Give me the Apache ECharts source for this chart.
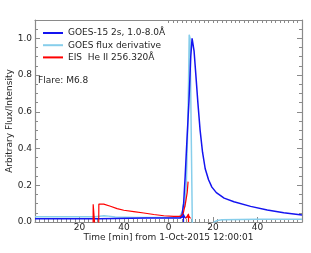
<!DOCTYPE html>
<html>
<head>
<meta charset="utf-8">
<script src="https://cdn.jsdelivr.net/npm/echarts@6/dist/echarts.min.js"></script>
<style>html,body{margin:0;padding:0;background:#fff}#c{width:311px;height:253px}</style>
</head>
<body>
<div id="c"></div>
<script>
var seriesNames = ['GOES-15 2s, 1.0-8.0Å', 'GOES flux derivative', 'EIS  He II 256.320Å'];
var xTitle = 'Time [min] from 1-Oct-2015 12:00:01';
var yTitle = 'Arbitrary Flux/Intensity';
var flareLabel = 'Flare: M6.8';

var goesT = [0, 28.8, 29.2, 50, 65.3, 66.1, 66.8, 67.5, 68.1, 69.2, 70.0, 70.6, 71.5, 72.3, 73.2, 74.2, 75.3, 76.5, 78.0, 79.5, 81.5, 85, 89.4, 96.9, 104.4, 111.8, 120];
var goesV = [0.018, 0.018, 0.022, 0.022, 0.022, 0.04, 0.1, 0.25, 0.4, 0.66, 0.9, 1.0, 0.93, 0.8, 0.65, 0.5, 0.38, 0.29, 0.23, 0.19, 0.16, 0.13, 0.11, 0.085, 0.065, 0.05, 0.038];

var derivT = [0, 27, 29, 31, 33, 36, 45, 55, 62, 65, 66.3, 66.9, 67.4, 68.0, 68.6, 69.0, 69.3, 69.7, 70.0, 70.7, 71.0, 80.0, 80.5, 82, 84, 100, 120];
var derivV = [0.029, 0.029, 0.031, 0.034, 0.032, 0.027, 0.024, 0.024, 0.025, 0.028, 0.06, 0.11, 0.08, 0.2, 0.5, 0.75, 1.02, 1.0, 0.7, 0.0, -0.05, -0.05, 0.0, 0.008, 0.012, 0.015, 0.015];

var eisT = [26.1, 26.15, 27.0, 27.05, 28.6, 28.7, 30.9, 33.9, 36.9, 39.9, 44.4, 48.9, 53.4, 57.9, 62.4, 65.4, 66.6, 67.6, 68.4, 68.8];
var eisV = [-0.05, 0.097, 0.097, -0.05, -0.05, 0.098, 0.097, 0.086, 0.073, 0.064, 0.057, 0.049, 0.041, 0.034, 0.031, 0.031, 0.045, 0.1, 0.16, 0.22];

var arrowT = [66.7, 68.8];
var arrowTop = 0.045;

var topTicks = [];
for (var k = 60; k <= 120; k += 2) topTicks.push(k);

function zip(a, b) { return a.map(function (t, i) { return [t, b[i]]; }); }

var gray = '#8a8a8a';
var txt = '#262626';
var font = 'DejaVu Sans';

var chart = echarts.init(document.getElementById('c'), null, {renderer: 'canvas'});
chart.setOption({
  animation: false,
  backgroundColor: '#fff',
  textStyle: {fontFamily: font},
  grid: {left: 35, right: 9, top: 20, bottom: 31, containLabel: false, outerBoundsMode: 'none'},
  title: {text: flareLabel, left: 38, top: 76, padding: 0,
    textStyle: {fontSize: 9, fontWeight: 'normal', color: txt, fontFamily: font}},
  legend: {
    orient: 'vertical', left: 38, top: 23, itemWidth: 20, itemHeight: 2, itemGap: 2.2,
    icon: 'rect', data: seriesNames,
    textStyle: {fontSize: 9, color: txt, fontFamily: font, lineHeight: 10}
  },
  xAxis: [{
    type: 'value', min: 0, max: 120, interval: 20, position: 'bottom',
    name: xTitle, nameLocation: 'middle', nameGap: 11, nameMoveOverlap: false,
    nameTextStyle: {fontSize: 9, color: txt, fontFamily: font},
    axisLine: {onZero: false, lineStyle: {color: gray, width: 1.2}},
    axisTick: {inside: true, length: 5, lineStyle: {color: gray}},
    minorTick: {show: true, splitNumber: 10, length: 3, lineStyle: {color: gray}},
    splitLine: {show: false},
    axisLabel: {fontSize: 9, color: txt, margin: 1, showMinLabel: false, showMaxLabel: false,
      formatter: function (v) { return String(v % 60); }}
  }, {
    type: 'value', min: 0, max: 120, position: 'top',
    axisLine: {show: true, onZero: false, lineStyle: {color: gray, width: 1.2}},
    axisTick: {show: true, inside: true, length: 3, customValues: topTicks, lineStyle: {color: gray}},
    splitLine: {show: false},
    axisLabel: {show: false}
  }],
  yAxis: [{
    type: 'value', min: 0, max: 1.1, interval: 0.2, position: 'left',
    name: yTitle, nameLocation: 'middle', nameGap: 21, nameMoveOverlap: false,
    nameTextStyle: {fontSize: 9, color: txt, fontFamily: font},
    axisLine: {show: true, onZero: false, lineStyle: {color: gray, width: 1.2}},
    axisTick: {show: true, inside: true, length: 5, lineStyle: {color: gray}},
    minorTick: {show: true, splitNumber: 4, length: 3, lineStyle: {color: gray}},
    splitLine: {show: false},
    axisLabel: {fontSize: 9, color: txt, margin: 3, showMaxLabel: false,
      formatter: function (v) { return v.toFixed(1); }}
  }, {
    type: 'value', min: 0, max: 1.1, interval: 0.2, position: 'right',
    axisLine: {show: true, onZero: false, lineStyle: {color: gray, width: 1.2}},
    axisTick: {show: true, inside: true, length: 5, lineStyle: {color: gray}},
    minorTick: {show: true, splitNumber: 4, length: 3, lineStyle: {color: gray}},
    splitLine: {show: false},
    axisLabel: {show: false}
  }],
  series: [{
    name: seriesNames[1], type: 'line', data: zip(derivT, derivV), showSymbol: false, symbol: 'none',
    color: '#87ceeb', lineStyle: {width: 1.5, color: '#87ceeb'}, z: 2, clip: true
  }, {
    name: seriesNames[0], type: 'line', data: zip(goesT, goesV), showSymbol: false, symbol: 'none',
    color: '#1414f0', lineStyle: {width: 1.5, color: '#1414f0'}, z: 3, clip: true,
    markLine: {silent: true, symbol: ['none', 'arrow'], symbolSize: 5, label: {show: false},
      lineStyle: {color: '#1414f0', type: 'solid', width: 1.2},
      data: [[{coord: [arrowT[0], 0]}, {coord: [arrowT[0], arrowTop]}]]}
  }, {
    name: seriesNames[2], type: 'line', data: zip(eisT, eisV), showSymbol: false, symbol: 'none',
    color: '#ff0000', lineStyle: {width: 1.2, color: '#ff0000'}, z: 4, clip: true,
    markLine: {silent: true, symbol: ['none', 'arrow'], symbolSize: 5, label: {show: false},
      lineStyle: {color: '#ff0000', type: 'solid', width: 1.2},
      data: [[{coord: [arrowT[1], 0]}, {coord: [arrowT[1], arrowTop]}]]}
  }]
});
</script>
</body>
</html>
